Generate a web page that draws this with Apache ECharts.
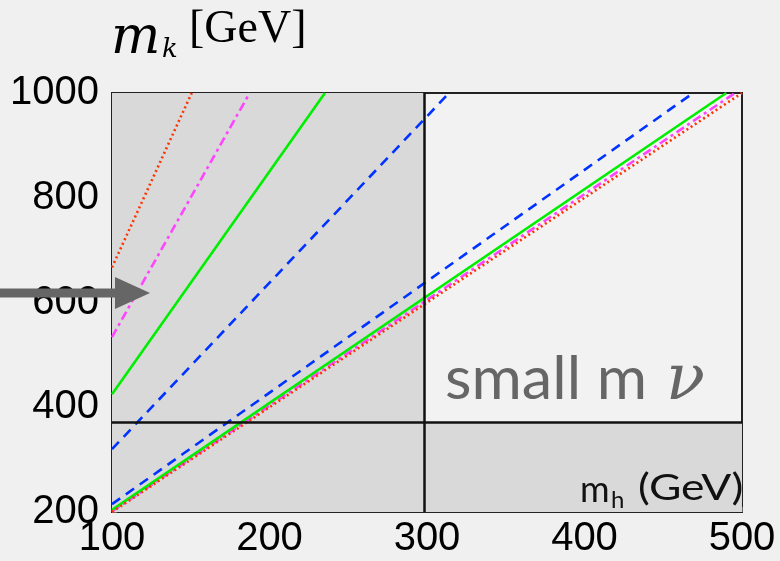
<!DOCTYPE html>
<html>
<head>
<meta charset="utf-8">
<script src="https://cdn.jsdelivr.net/npm/echarts@6/dist/echarts.min.js"></script>
<style>
  html, body { margin: 0; padding: 0; background: #f0f0f0; }
  #chart { width: 780px; height: 561px; }
</style>
</head>
<body>
<div id="chart"></div>
<script>
// Axis ranges and tick labels
const xTicks = [100, 200, 300, 400, 500];
const yTicks = [200, 400, 600, 800, 1000];

// Boundaries of the excluded (shaded) regions
const mhLimit = 298;   // vertical boundary in m_h
const mkLimit = 372;   // horizontal boundary in m_k

// Upper branch of each curve (m_h, m_k)
const redUpper     = [[100, 667], [150.6, 1000]];
const magentaUpper = [[100, 534], [187.4, 1000]];
const greenUpper   = [[100, 425], [235.2, 1000]];
const blueUpper    = [[100, 320], [314, 1000]];

// Lower branch of each curve (m_h, m_k)
const redLower     = [[100, 200], [500, 1000]];
const magentaLower = [[100, 201], [495.6, 1000]];
const greenLower   = [[100, 204], [490, 1000]];
const blueLower    = [[100, 215], [469, 1000]];

const RED = '#ff3300', MAGENTA = '#ff44ff', GREEN = '#00ee00', BLUE = '#0033ff';

function curve(data, color, dash, z) {
  return {
    type: 'line', data: data, showSymbol: false, silent: true, z: z,
    lineStyle: { color: color, width: 2.6, type: dash, cap: 'butt' },
    clip: true
  };
}

const chart = echarts.init(document.getElementById('chart'), null, { renderer: 'canvas' });

const series = [
  {
    type: 'line', data: [], silent: true, z: 1,
    markArea: {
      silent: true,
      itemStyle: { color: '#d9d9d9' },
      data: [
        [{ coord: [100, 200] }, { coord: [mhLimit, 1000] }],
        [{ coord: [mhLimit, 200] }, { coord: [500, mkLimit] }]
      ]
    },
    markLine: {
      silent: true, symbol: 'none', label: { show: false },
      lineStyle: { color: '#111', width: 2.5, type: 'solid' },
      data: [{ xAxis: mhLimit }, { yAxis: mkLimit }]
    }
  },
  curve(blueUpper, BLUE, [10, 7], 3),
  curve(greenUpper, GREEN, 'solid', 3),
  curve(magentaUpper, MAGENTA, [9, 4, 3, 4], 3),
  curve(redUpper, RED, [2, 3], 3),
  curve(blueLower, BLUE, [10, 7], 3),
  curve(greenLower, GREEN, 'solid', 4),
  curve(magentaLower, MAGENTA, [9, 4, 3, 4], 3),
  curve(redLower, RED, [2, 3], 4)
];

const labelFont = '"Liberation Sans", Arial, sans-serif';

chart.setOption({
  backgroundColor: '#f0f0f0',
  animation: false,
  grid: {
    left: 112, right: 38, top: 93, bottom: 49,
    show: true, backgroundColor: '#f2f2f2',
    borderColor: '#222', borderWidth: 2
  },
  xAxis: {
    type: 'value', min: xTicks[0], max: xTicks[xTicks.length - 1], interval: 100,
    axisLine: { show: false },
    splitLine: { show: false },
    axisTick: { show: true, inside: true, length: 5, lineStyle: { color: '#666', width: 1 } },
    axisLabel: {
      color: '#000', fontSize: 40, fontFamily: labelFont, margin: 7,
      formatter: v => xTicks.includes(v) ? String(v) : ''
    }
  },
  yAxis: {
    type: 'value', min: yTicks[0], max: yTicks[yTicks.length - 1], interval: 200,
    axisLine: { show: false },
    splitLine: { show: false },
    axisTick: { show: true, inside: true, length: 5, lineStyle: { color: '#666', width: 1 } },
    axisLabel: {
      color: '#000', fontSize: 40, fontFamily: labelFont, margin: 13,
      padding: [0, 0, 16, 0],
      formatter: v => yTicks.includes(v) ? String(v) : ''
    }
  },
  series: series,
  graphic: [
    // y-axis title: m_k [GeV]
    { type: 'text', x: 111, y: 13, z: 10,
      style: { text: 'm', font: 'italic 52px "DejaVu Serif", serif', fill: '#000', verticalAlign: 'top' } },
    { type: 'text', x: 162, y: 37, z: 10,
      style: { text: 'k', font: 'italic 26px "DejaVu Serif", serif', fill: '#000', verticalAlign: 'top' } },
    { type: 'text', x: 189, y: 7, z: 10,
      style: { text: '[GeV]', font: '46px "Liberation Serif", serif', fill: '#000', verticalAlign: 'top' } },
    // x-axis title inside the frame
    { type: 'text', x: 580, y: 472, z: 10,
      style: { text: 'm', font: '36px Lato, sans-serif', fill: '#111', verticalAlign: 'top' } },
    { type: 'text', x: 611, y: 488, z: 10,
      style: { text: 'h', font: '24px Lato, sans-serif', fill: '#111', verticalAlign: 'top' } },
    { type: 'text', x: 638, y: 470, scaleX: 1.2, z: 10,
      style: { text: '(GeV)', font: '37px Lato, sans-serif', fill: '#111', verticalAlign: 'top' } },
    // region annotation
    { type: 'text', x: 445, y: 350, scaleX: 1.02, z: 10,
      style: { text: 'small m', font: '60px Lato, sans-serif', fill: '#666', verticalAlign: 'top' } },
    { type: 'text', x: 666, y: 350, z: 10,
      style: { text: '\u03bd', font: 'italic 64px "DejaVu Serif", serif', fill: '#666', verticalAlign: 'top' } },
    // arrow pointing at the left edge
    { type: 'polygon', z: 10,
      shape: { points: [[0, 288.5], [115, 288.5], [115, 277], [150, 293], [115, 309], [115, 297.5], [0, 297.5]] },
      style: { fill: '#666' } }
  ]
});
</script>
</body>
</html>
